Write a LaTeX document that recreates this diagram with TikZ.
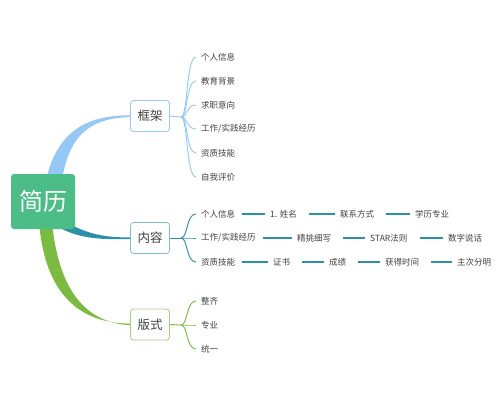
\documentclass[tikz,border=0pt]{standalone}
\usepackage{fontspec}
\setmainfont{Noto Sans CJK SC}
\definecolor{rootg}{HTML}{4DBD87}
\definecolor{cblue}{HTML}{96C8F5}
\definecolor{cteal}{HTML}{2C91A6}
\definecolor{cgreen}{HTML}{7CBB42}
\definecolor{txt}{HTML}{404040}
\begin{document}
\begin{tikzpicture}[x=1pt,y=-1pt,
  rootbox/.style={draw=none,fill=rootg,rounded corners=3pt,minimum width=64pt,minimum height=55pt,text=white,font=\fontsize{24}{24}\selectfont,inner sep=0pt},
  midbox/.style={fill=white,rounded corners=3pt,minimum width=39pt,minimum height=31pt,text=txt,font=\fontsize{12.5}{13}\selectfont,inner sep=0pt,line width=0.8pt},
  leaf/.style={anchor=west,inner sep=0pt,text=txt,font=\fontsize{8.5}{9}\selectfont},
  item/.style={anchor=west,inner xsep=5pt,inner ysep=0pt,text=txt,font=\fontsize{8.5}{9}\selectfont},
  brl/.style={line width=0.95pt}
]
\useasboundingbox (0,0) rectangle (500,412);
% tapered main connectors
\fill[cblue] (46,180) .. controls (58,128) and (90,115.2) .. (131,115.3)
  -- (131,117) .. controls (95,118) and (70,130) .. (62,180) -- cycle;
\fill[cteal] (66,222) .. controls (90,236) and (110,237.5) .. (131,237.4)
  -- (131,239) .. controls (100,240) and (80,238) .. (62,229) -- cycle;
\fill[cgreen] (39,222) .. controls (45,295) and (80,323.5) .. (131,323.6)
  -- (131,325.2) .. controls (82,323) and (58,285) .. (52,222) -- cycle;
% root and mid nodes
\node[rootbox] (root) at (43,201.5) {简历};
\node[midbox,draw=cblue] (fk) at (150,116) {框架};
\node[midbox,draw=cteal!60] (nr) at (150,238) {内容};
\node[midbox,draw=cgreen!70] (bs) at (150,324.5) {版式};
% 框架 leaves
\coordinate (jf) at (181,117);
\draw[cblue,brl] (fk.east) -- (jf);
\foreach \t/\y/\n in {个人信息/57/f1,教育背景/81/f2,求职意向/105/f3,{工作/实践经历}/129/f4,资质技能/153/f5,自我评价/177/f6}{
  \node[leaf] (\n) at (201,\y) {\t};
  \draw[cblue,brl] (jf) .. controls (188,117) and (186,\y) .. ([xshift=-5pt]\n.west);
}
% 内容 leaves
\coordinate (jn) at (181,238);
\draw[cteal,brl] (nr.east) -- (jn);
\node[leaf] (n1) at (201,214) {个人信息};
\node[leaf] (n2) at (201,238) {工作/实践经历};
\node[leaf] (n3) at (201,262) {资质技能};
\draw[cteal,brl] (jn) .. controls (188,238) and (186,214) .. ([xshift=-5pt]n1.west);
\draw[cteal,brl] (jn) .. controls (188,238) and (186,238) .. ([xshift=-5pt]n2.west);
\draw[cteal,brl] (jn) .. controls (188,238) and (186,262) .. ([xshift=-5pt]n3.west);
% rows
\node[item] (a2) at (265,214) {1. 姓名};
\node[item] (a3) at (335,214) {联系方式};
\node[item] (a4) at (410,214) {学历专业};
\node[item] (b2) at (292,238) {精挑细写};
\node[item] (b3) at (365,238) {STAR法则};
\node[item] (b4) at (443,238) {数字说话};
\node[item] (c2) at (268,262) {证书};
\node[item] (c3) at (324,262) {成绩};
\node[item] (c4) at (380,262) {获得时间};
\node[item] (c5) at (452,262) {主次分明};
\begin{scope}[cteal,line width=1.2pt,shorten <=7pt]
\draw (n1.east) -- (a2.west);
\draw (a2.east) -- (a3.west);
\draw (a3.east) -- (a4.west);
\draw (n2.east) -- (b2.west);
\draw (b2.east) -- (b3.west);
\draw (b3.east) -- (b4.west);
\draw (n3.east) -- (c2.west);
\draw (c2.east) -- (c3.west);
\draw (c3.east) -- (c4.west);
\draw (c4.east) -- (c5.west);
\end{scope}
% 版式 leaves
\coordinate (jb) at (181,325);
\draw[cgreen,brl] (bs.east) -- (jb);
\foreach \t/\y/\n in {整齐/301/s1,专业/325/s2,统一/349/s3}{
  \node[leaf] (\n) at (201,\y) {\t};
  \draw[cgreen,brl] (jb) .. controls (188,325) and (186,\y) .. ([xshift=-5pt]\n.west);
}
\end{tikzpicture}
\end{document}
